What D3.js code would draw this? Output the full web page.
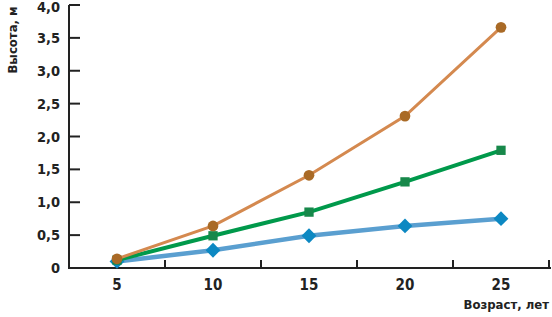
<!DOCTYPE html>
<html>
<head>
<meta charset="utf-8">
<script src="https://cdn.jsdelivr.net/npm/d3@7"></script>
<style>
  body { margin: 0; background: #fff; }
  text { font-family: "Liberation Sans Narrow", "DejaVu Sans Condensed", sans-serif; font-weight: bold; fill: #222; }
</style>
</head>
<body>
<div id="chart"></div>
<script>
const ages = [5, 10, 15, 20, 25];
const heightOrange = [0.14, 0.64, 1.41, 2.31, 3.66];
const heightGreen = [0.12, 0.49, 0.85, 1.31, 1.79];
const heightBlue = [0.10, 0.27, 0.49, 0.64, 0.75];
const yTicks = [0, 0.5, 1, 1.5, 2, 2.5, 3, 3.5, 4];

let width = 552, height = 317;
let svg = d3.select("#chart").append("svg")
  .attr("width", width)
  .attr("height", height);

let x = d3.scaleBand().domain(ages).range([69, 549]);
let y = d3.scaleLinear().domain([0, 4]).range([268, 5]);

// y axis
svg.append("line")
  .attr("x1", 69).attr("x2", 69)
  .attr("y1", y(4)).attr("y2", y(0))
  .attr("stroke", "#222").attr("stroke-width", 2);

svg.selectAll(".ytick").data(yTicks).enter().append("line")
  .attr("x1", 69).attr("x2", 80)
  .attr("y1", d => y(d)).attr("y2", d => y(d))
  .attr("stroke", "#222").attr("stroke-width", 2);

svg.selectAll(".ylab").data(yTicks).enter().append("text")
  .attr("x", 60).attr("y", d => Math.max(y(d) + 5, 12))
  .attr("text-anchor", "end")
  .style("font-size", "14.5px")
  .text(d => d === 0 ? "0" : d3.format(".1f")(d).replace(".", ","));

// x axis
svg.append("line")
  .attr("x1", 68).attr("x2", 551)
  .attr("y1", y(0)).attr("y2", y(0))
  .attr("stroke", "#222").attr("stroke-width", 2);

svg.selectAll(".xtick").data(ages).enter().append("line")
  .attr("x1", d => x(d) + x.bandwidth()).attr("x2", d => x(d) + x.bandwidth())
  .attr("y1", y(0)).attr("y2", y(0) - 8)
  .attr("stroke", "#222").attr("stroke-width", 2);

svg.selectAll(".xlab").data(ages).enter().append("text")
  .attr("x", d => x(d) + x.bandwidth() / 2).attr("y", 290)
  .attr("text-anchor", "middle")
  .style("font-size", "15px")
  .text(d => d);

svg.append("text")
  .attr("x", 549).attr("y", 309)
  .attr("text-anchor", "end")
  .style("font-size", "13px")
  .text("Возраст, лет");

svg.append("text")
  .attr("transform", "translate(17,40) rotate(-90)")
  .attr("text-anchor", "middle")
  .style("font-size", "13px")
  .text("Высота, м");

let cx = d => x(d) + x.bandwidth() / 2;
let line = d3.line().x((d, i) => cx(ages[i])).y(d => y(d));

let series = [
  { values: heightBlue, line: "#5a9fd0", mark: "#0c88c2", width: 4.5, shape: d3.symbolDiamond2, size: 140 },
  { values: heightGreen, line: "#00994b", mark: "#17884a", width: 4, shape: d3.symbolSquare2, size: 110 },
  { values: heightOrange, line: "#d4894f", mark: "#a96a26", width: 3, shape: d3.symbolCircle, size: 90 }
];

series.forEach(s => {
  svg.append("path")
    .attr("d", line(s.values))
    .attr("fill", "none")
    .attr("stroke", s.line)
    .attr("stroke-width", s.width);

  svg.selectAll(null).data(s.values).enter().append("path")
    .attr("transform", (d, i) => "translate(" + cx(ages[i]) + "," + y(d) + ")")
    .attr("d", d3.symbol().type(s.shape).size(s.size))
    .attr("fill", s.mark);
});
</script>
</body>
</html>
